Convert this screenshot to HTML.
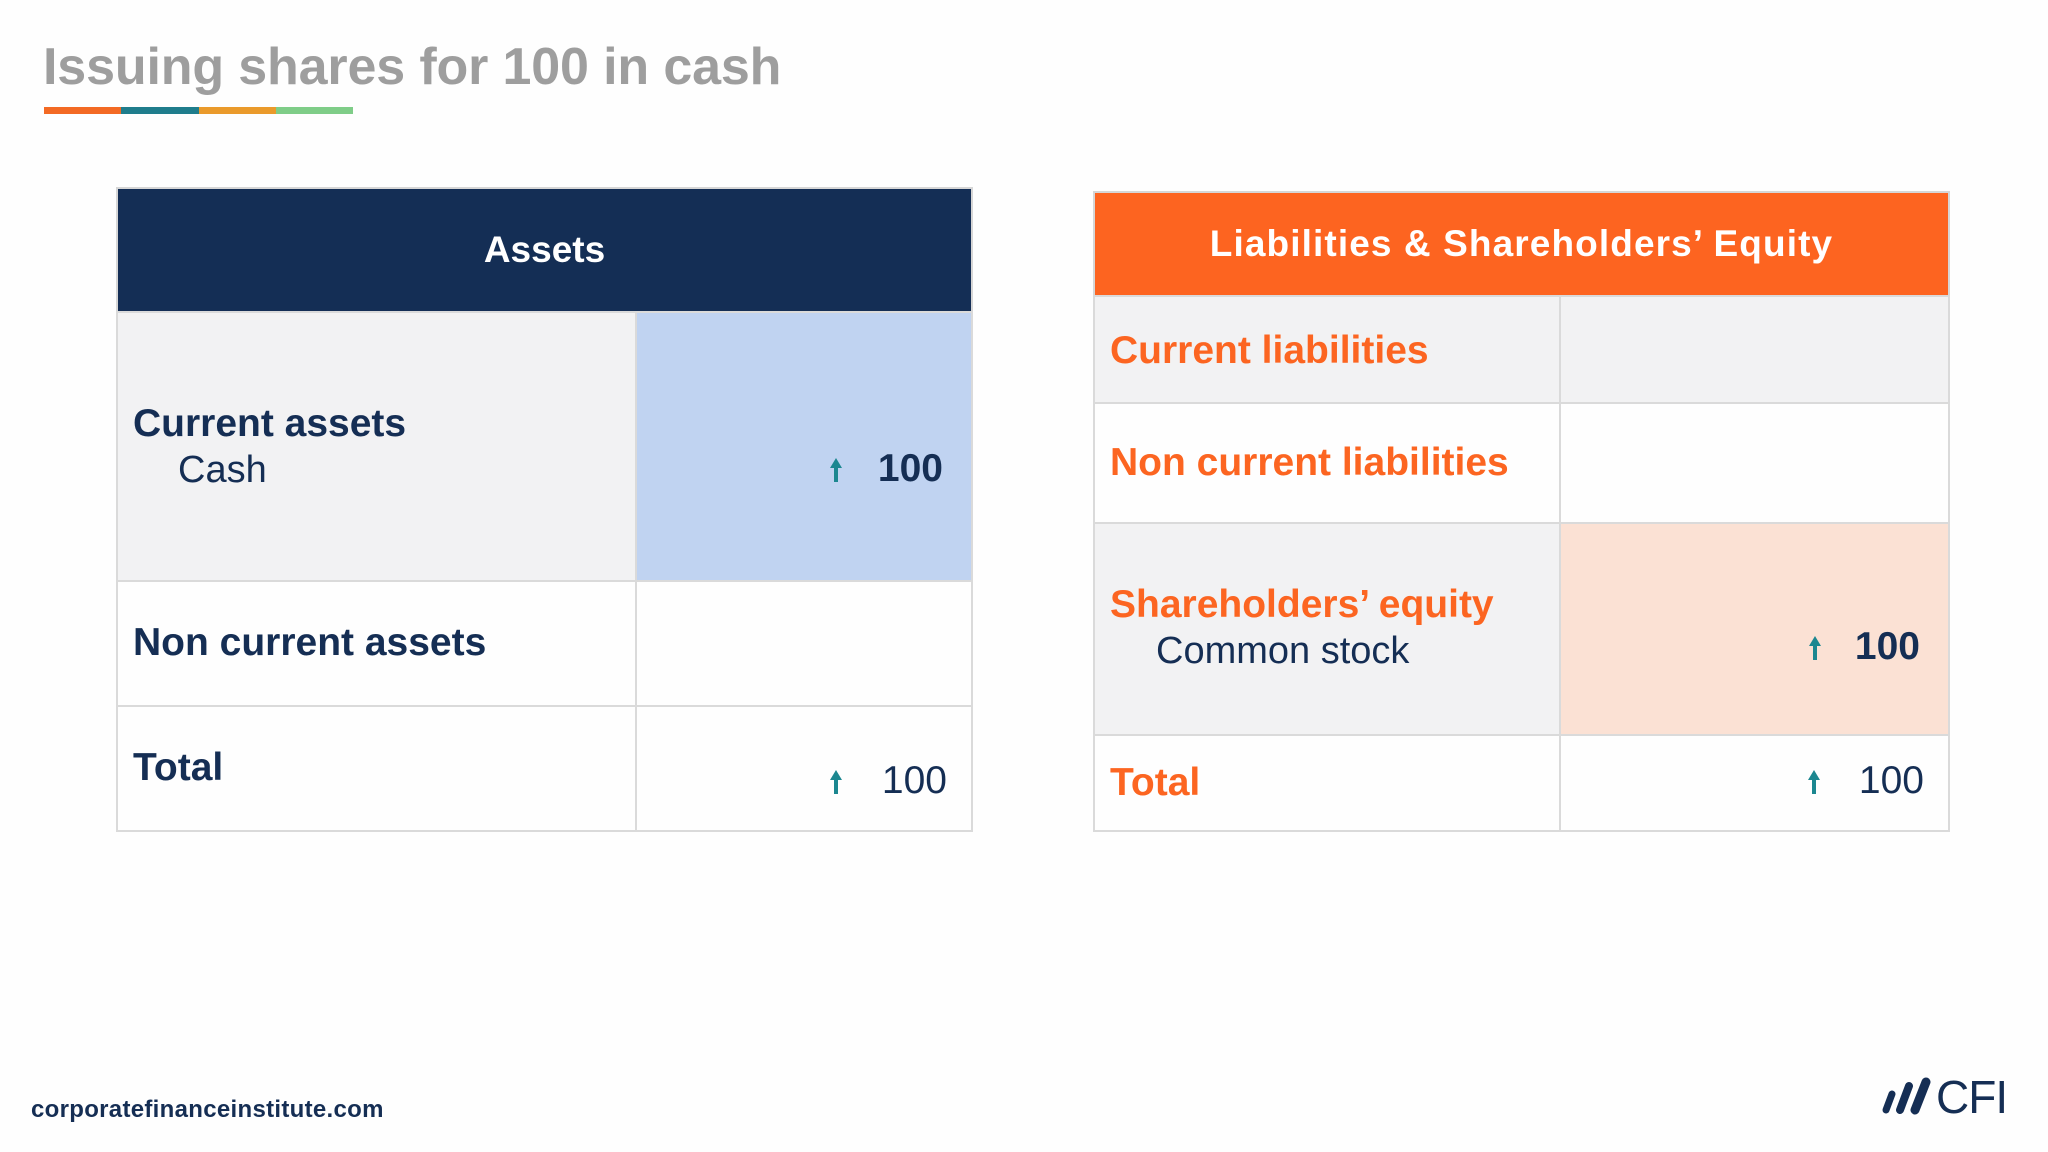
<!DOCTYPE html>
<html><head><meta charset="utf-8">
<style>
html,body{margin:0;padding:0;}
body{width:2048px;height:1152px;position:relative;background:#fefefe;font-family:"Liberation Sans",sans-serif;overflow:hidden;}
.a{position:absolute;}
.cell{position:absolute;box-sizing:border-box;border:2px solid #dadada;}
.t{position:absolute;white-space:nowrap;line-height:1;}
.navy{color:#152e54;}
.org{color:#fc6521;}
.b{font-weight:bold;}
</style></head>
<body>
<div class="t b" style="left:43px;top:41px;font-size:52px;color:#9e9e9e;letter-spacing:-0.15px;">Issuing shares for 100 in cash</div>
<div class="a" style="left:44px;top:107px;width:309px;height:7px;display:flex;">
<div style="flex:1;background:#f36a24"></div><div style="flex:1;background:#1f7d8c"></div><div style="flex:1;background:#ea9a2b"></div><div style="flex:1;background:#7fcd88"></div>
</div>

<div>
<div class="cell" style="left:116px;top:187px;width:857px;height:126px;background:#142e55;border-color:#d6d6d6;"></div>
<div class="t b" style="left:116px;width:857px;text-align:center;top:231px;font-size:37px;color:#fff;">Assets</div>
<div class="cell" style="left:116px;top:311px;width:521px;height:271px;background:#f2f2f3;"></div>
<div class="cell" style="left:635px;top:311px;width:338px;height:271px;background:#c0d3f1;"></div>
<div class="cell" style="left:116px;top:580px;width:521px;height:127px;background:#fefefe;"></div>
<div class="cell" style="left:635px;top:580px;width:338px;height:127px;background:#fefefe;"></div>
<div class="cell" style="left:116px;top:705px;width:521px;height:127px;background:#fefefe;"></div>
<div class="cell" style="left:635px;top:705px;width:338px;height:127px;background:#fefefe;"></div>

<div class="t b navy" style="left:133px;top:404px;font-size:39px;">Current assets</div>
<div class="t navy" style="left:178px;top:451px;font-size:38px;">Cash</div>
<div class="t b navy" style="right:1105px;top:449px;font-size:39px;">100</div>
<svg class="a" style="left:829px;top:458px" width="14" height="24"><polygon points="7,0 13,10 9,10 9,24 5,24 5,10 1,10" fill="#1c8790"/></svg>
<div class="t b navy" style="left:133px;top:623px;font-size:39px;">Non current assets</div>
<div class="t b navy" style="left:133px;top:748px;font-size:39px;">Total</div>
<div class="t navy" style="right:1101px;top:761px;font-size:39px;">100</div>
<svg class="a" style="left:829px;top:770px" width="14" height="24"><polygon points="7,0 13,10 9,10 9,24 5,24 5,10 1,10" fill="#1c8790"/></svg>
</div>

<div>
<div class="cell" style="left:1093px;top:191px;width:857px;height:106px;background:#fd6420;border-color:#d6d6d6;"></div>
<div class="t b" style="left:1093px;width:857px;text-align:center;top:225px;font-size:37px;color:#fff;letter-spacing:1.1px;">Liabilities &amp; Shareholders’ Equity</div>
<div class="cell" style="left:1093px;top:295px;width:468px;height:109px;background:#f2f2f3;"></div>
<div class="cell" style="left:1559px;top:295px;width:391px;height:109px;background:#f2f2f3;"></div>
<div class="cell" style="left:1093px;top:402px;width:468px;height:122px;background:#fefefe;"></div>
<div class="cell" style="left:1559px;top:402px;width:391px;height:122px;background:#fefefe;"></div>
<div class="cell" style="left:1093px;top:522px;width:468px;height:214px;background:#f2f2f3;"></div>
<div class="cell" style="left:1559px;top:522px;width:391px;height:214px;background:#fbe1d4;"></div>
<div class="cell" style="left:1093px;top:734px;width:468px;height:98px;background:#fefefe;"></div>
<div class="cell" style="left:1559px;top:734px;width:391px;height:98px;background:#fefefe;"></div>

<div class="t b org" style="left:1110px;top:331px;font-size:39px;">Current liabilities</div>
<div class="t b org" style="left:1110px;top:443px;font-size:39px;">Non current liabilities</div>
<div class="t b org" style="left:1110px;top:585px;font-size:39px;">Shareholders’ equity</div>
<div class="t navy" style="left:1156px;top:632px;font-size:38px;">Common stock</div>
<div class="t b navy" style="right:128px;top:627px;font-size:39px;">100</div>
<svg class="a" style="left:1808px;top:636px" width="14" height="24"><polygon points="7,0 13,10 9,10 9,24 5,24 5,10 1,10" fill="#1c8790"/></svg>
<div class="t b org" style="left:1110px;top:763px;font-size:39px;">Total</div>
<div class="t navy" style="right:124px;top:761px;font-size:39px;">100</div>
<svg class="a" style="left:1807px;top:770px" width="14" height="24"><polygon points="7,0 13,10 9,10 9,24 5,24 5,10 1,10" fill="#1c8790"/></svg>
</div>

<div class="t b navy" style="left:31px;top:1098px;font-size:24px;letter-spacing:0.3px;">corporatefinanceinstitute.com</div>
<div class="a" style="left:1880px;top:1074px;width:150px;height:42px;">
<svg class="a" style="left:0;top:3px" width="54" height="38">
<g stroke="#152e54" stroke-linecap="round" fill="none">
<line x1="6" y1="33" x2="12" y2="17" stroke-width="7"/>
<line x1="20" y1="33" x2="29" y2="9" stroke-width="8"/>
<line x1="35" y1="33" x2="46" y2="5" stroke-width="9"/>
</g></svg>
<div class="t navy" style="left:56px;top:0;font-size:46px;letter-spacing:-1px;">CFI</div>
</div>
</body></html>
